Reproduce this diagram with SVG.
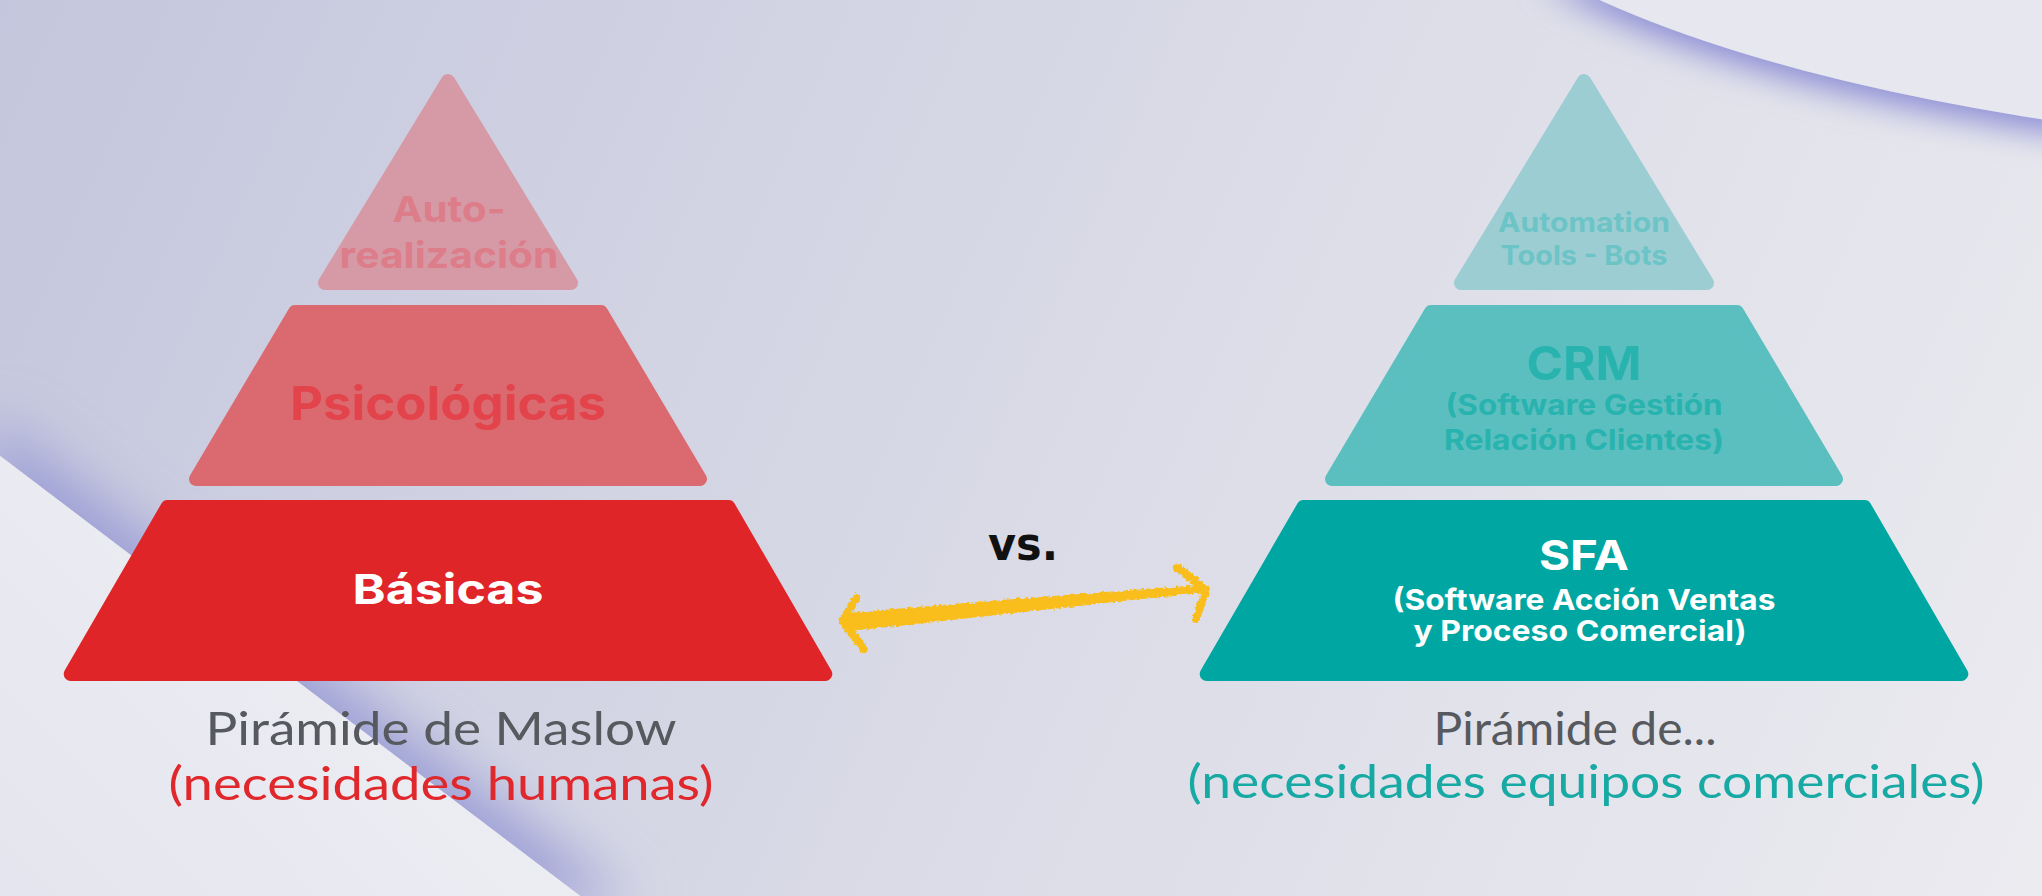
<svg xmlns="http://www.w3.org/2000/svg" width="2042" height="896" viewBox="0 0 2042 896">
<defs>
<linearGradient id="bg" x1="0" y1="0" x2="2042" y2="896" gradientUnits="userSpaceOnUse">
<stop offset="0" stop-color="#c4c6dd"/>
<stop offset="0.5" stop-color="#d9dae6"/>
<stop offset="1" stop-color="#ebebf0"/>
</linearGradient>
<linearGradient id="sheetBL" x1="0" y1="896" x2="400" y2="500" gradientUnits="userSpaceOnUse">
<stop offset="0" stop-color="#e4e5ee"/>
<stop offset="1" stop-color="#eff0f4"/>
</linearGradient>
<filter id="shTR" x="-20%" y="-50%" width="140%" height="300%">
<feDropShadow dx="0" dy="12" stdDeviation="16" flood-color="#8a8cd4" flood-opacity="1"/>
</filter>
<filter id="shBL" x="-50%" y="-50%" width="200%" height="200%">
<feDropShadow dx="20" dy="-16" stdDeviation="28" flood-color="#9c9fd6" flood-opacity="1"/>
</filter>
<filter id="rough" x="-10%" y="-30%" width="120%" height="160%">
<feTurbulence type="fractalNoise" baseFrequency="0.3" numOctaves="2" seed="3"/>
<feDisplacementMap in="SourceGraphic" scale="5" xChannelSelector="R" yChannelSelector="G"/>
</filter>
</defs>
<style>
.lvl{stroke-width:14;stroke-linejoin:round}
.lbl{font-family:Inter,"Open Sans","Liberation Sans",sans-serif;font-weight:700;text-anchor:middle}
.hand{font-family:Lato,"Open Sans","Liberation Sans",sans-serif;font-weight:400;text-anchor:middle}
.arm{fill:none;stroke:#f9be1a;stroke-width:8;stroke-linecap:round;stroke-linejoin:round}
</style>

<rect x="0" y="0" width="2042" height="896" fill="url(#bg)"/>
<path d="M1540,-30 Q1722,72 2072,124 L2072,-30 Z" fill="#e6e7ef" filter="url(#shTR)"/>
<path d="M-30,433 L612,920 L-30,920 Z" fill="url(#sheetBL)" filter="url(#shBL)"/>

<g id="maslow-autorealizacion">
<polygon class="lvl" points="448,81 325,283 571,283" fill="#d59aa6" stroke="#d59aa6"/>
<text class="lbl" x="449" y="222" font-size="36" fill="#dd7d8a" textLength="113" lengthAdjust="spacingAndGlyphs">Auto-</text>
<text class="lbl" x="449" y="268" font-size="36" fill="#dd7d8a" textLength="219" lengthAdjust="spacingAndGlyphs">realización</text>
</g>
<g id="maslow-psicologicas">
<polygon class="lvl" points="295,312 601,312 700,479 196,479" fill="#db6a70" stroke="#db6a70"/>
<text class="lbl" x="448" y="420" font-size="47" fill="#e3434b" textLength="316" lengthAdjust="spacingAndGlyphs">Psicológicas</text>
</g>
<g id="maslow-basicas">
<polygon class="lvl" points="167.5,507 728.5,507 825.3,674 70.7,674" fill="#df2527" stroke="#df2527"/>
<text class="lbl" x="448" y="604" font-size="41" fill="#ffffff" textLength="191" lengthAdjust="spacingAndGlyphs">Básicas</text>
</g>

<g id="sales-automation">
<polygon class="lvl" points="1584,81 1461,283 1707,283" fill="#9ccdd3" stroke="#9ccdd3"/>
<text class="lbl" x="1584" y="232" font-size="27" fill="#6cc4c6" textLength="172" lengthAdjust="spacingAndGlyphs">Automation</text>
<text class="lbl" x="1584" y="265" font-size="27" fill="#6cc4c6" textLength="167" lengthAdjust="spacingAndGlyphs">Tools - Bots</text>
</g>
<g id="sales-crm">
<polygon class="lvl" points="1431,312 1737,312 1836,479 1332,479" fill="#5bbfc0" stroke="#5bbfc0"/>
<text class="lbl" x="1584" y="380" font-size="47" fill="#28b3af" textLength="115" lengthAdjust="spacingAndGlyphs">CRM</text>
<text class="lbl" x="1584" y="415" font-size="28" fill="#28b3af" textLength="277" lengthAdjust="spacingAndGlyphs">(Software Gestión</text>
<text class="lbl" x="1584" y="450" font-size="28" fill="#28b3af" textLength="280" lengthAdjust="spacingAndGlyphs">Relación Clientes)</text>
</g>
<g id="sales-sfa">
<polygon class="lvl" points="1303.5,507 1864.5,507 1961.3,674 1206.7,674" fill="#00a6a2" stroke="#00a6a2"/>
<text class="lbl" x="1584" y="570" font-size="41" fill="#ffffff" textLength="90" lengthAdjust="spacingAndGlyphs">SFA</text>
<text class="lbl" x="1584" y="610" font-size="29" fill="#ffffff" textLength="383" lengthAdjust="spacingAndGlyphs">(Software Acción Ventas</text>
<text class="lbl" x="1580" y="641" font-size="29" fill="#ffffff" textLength="333" lengthAdjust="spacingAndGlyphs">y Proceso Comercial)</text>
</g>

<g id="connectors">
<g filter="url(#rough)">
<path d="M846,613 C920,607 1000,600 1080,594 C1130,590 1170,587 1200,585 L1201,593 C1170,596 1130,600 1080,606 C1000,614 920,624 848,631 Z" fill="#f9be1a"/>
<path class="arm" d="M857,597 L842,621 L864,649"/>
<path class="arm" d="M1177,567 L1206,590 L1196,619"/>
</g>
<text x="1023" y="560" font-family="'DejaVu Sans',sans-serif" font-weight="700" font-size="46" fill="#111111" text-anchor="middle" textLength="70" lengthAdjust="spacingAndGlyphs">vs.</text>
</g>

<g id="caption-maslow">
<text class="hand" x="441" y="745" font-size="46" fill="#56595d" textLength="471" lengthAdjust="spacingAndGlyphs">Pirámide de Maslow</text>
<text class="hand" x="441" y="800" font-size="46" fill="#e0282c" textLength="545" lengthAdjust="spacingAndGlyphs">(necesidades humanas)</text>
</g>
<g id="caption-sales">
<text class="hand" x="1575" y="745" font-size="46" fill="#56595d" textLength="283" lengthAdjust="spacingAndGlyphs">Pirámide de...</text>
<text class="hand" x="1586" y="798" font-size="46" fill="#17a9a3" textLength="797" lengthAdjust="spacingAndGlyphs">(necesidades equipos comerciales)</text>
</g>
</svg>
